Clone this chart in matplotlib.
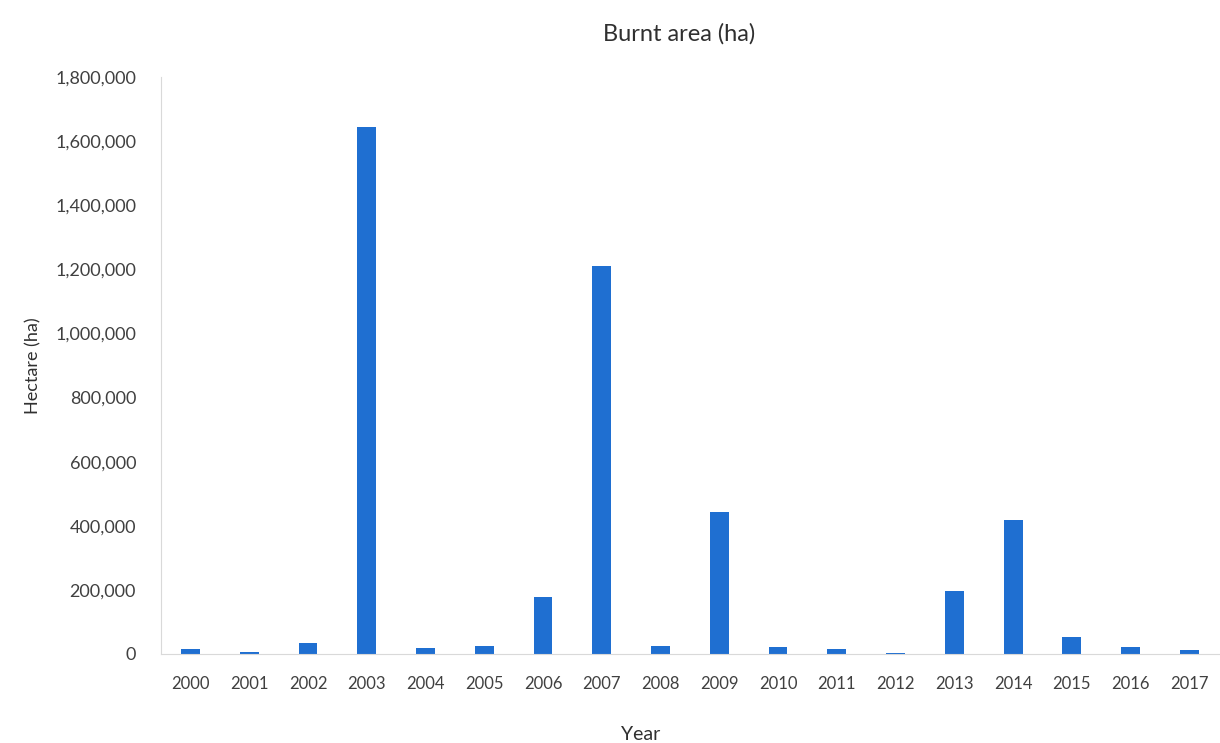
import matplotlib
matplotlib.use("Agg")
import matplotlib.pyplot as plt
from matplotlib.ticker import FuncFormatter

# Data
years = [str(y) for y in range(2000, 2018)]
burnt_area = [15000, 7000, 35000, 1644000, 20000, 25000, 177000, 1210000, 25000,
              443000, 22000, 15000, 3000, 198000, 418000, 52000, 23000, 14000]

plt.rcParams['font.family'] = ['Lato', 'DejaVu Sans']

fig = plt.figure(figsize=(12.2, 7.43), dpi=100)
ax = fig.add_axes([0.132, 0.1198, 0.867, 0.7766])

x = range(len(years))
ax.bar(x, burnt_area, width=0.32, color='#1f6fd1')

ax.set_xlim(-0.5, len(years) - 0.5)
ax.set_ylim(0, 1800000)
ax.set_yticks(range(0, 1800001, 200000))
ax.yaxis.set_major_formatter(FuncFormatter(lambda v, p: f"{int(v):,}"))
ax.set_xticks(list(x))
ax.set_xticklabels(years)

for s in ['top', 'right']:
    ax.spines[s].set_visible(False)
for s in ['left', 'bottom']:
    ax.spines[s].set_color('#d9d9d9')
ax.tick_params(length=0, labelsize=12, colors='#404040')
ax.tick_params(axis='x', pad=16)
ax.tick_params(axis='y', pad=18, labelsize=13)

ax.set_title("Burnt area (ha)", fontsize=17, color='#303030', pad=26, x=0.49)
ax.set_xlabel("Year", fontsize=14, color='#303030')
ax.xaxis.set_label_coords(0.453, -0.125)
ax.set_ylabel("Hectare (ha)", fontsize=13, color='#303030', labelpad=10)

fig.savefig("out.png", dpi=100)
